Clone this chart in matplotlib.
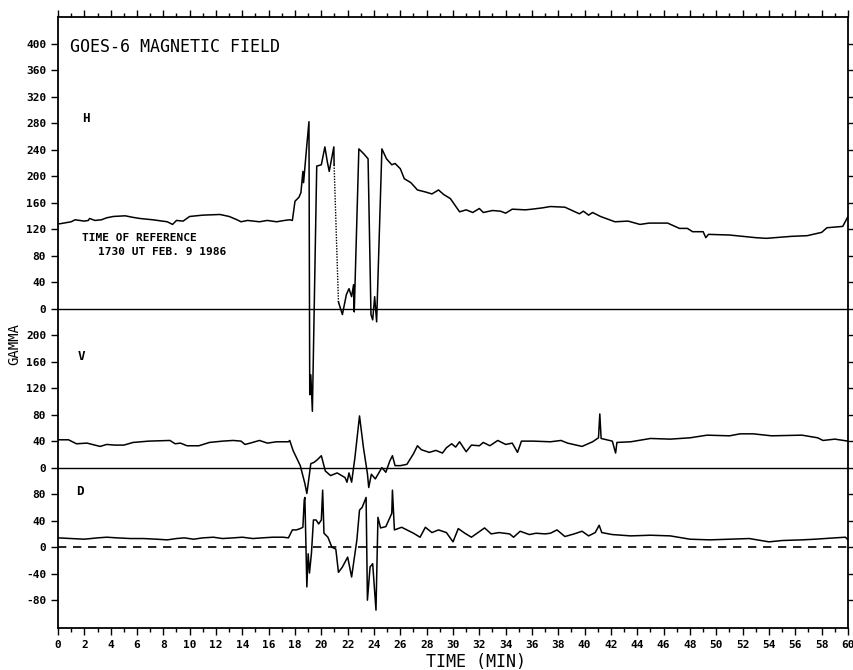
import matplotlib
matplotlib.use("Agg")
import matplotlib.pyplot as plt

# H component (gamma); the gap between the two parts is drawn dotted
h_time_a = [0, 0.15, 1.0, 1.3, 2.0, 2.3, 2.4, 2.8, 3.3, 3.7,
            4.2, 5.1, 5.6, 6.2, 7.2, 8.3, 8.7, 9.0, 9.5, 10.0,
            11.0, 12.3, 13.0, 13.6, 13.9, 14.4, 15.3, 15.9, 16.6, 17.2,
            17.6, 17.8, 18.0, 18.3, 18.45, 18.6, 18.65, 18.9, 19.06, 19.12,
            19.2, 19.32, 19.65, 20.0, 20.27, 20.45, 20.6, 20.95, 20.97]
h_gamma_a = [128, 128, 131, 134, 132, 133, 136, 133, 134, 137,
             139, 140, 138, 136, 134, 131, 127, 133, 132, 139,
             141, 142, 139, 134, 131, 133, 131, 133, 131, 133,
             134, 133, 162, 168, 175, 207, 190, 247, 282, -130,
             -100, -155, 215, 217, 244, 222, 207, 244, 217]
h_time_b = [21.3, 21.6, 21.9, 22.1, 22.3, 22.45, 22.5, 22.85, 23.2, 23.55,
            23.77, 23.9, 24.05, 24.2, 24.6, 24.95, 25.35, 25.6, 26.0, 26.3,
            26.8, 27.3, 27.9, 28.4, 28.9, 29.3, 29.8, 30.5, 31.0, 31.5,
            32.0, 32.3, 33.0, 33.6, 34.0, 34.5, 35.5, 36.0, 36.8, 37.4,
            38.5, 39.6, 39.9, 40.3, 40.6, 41.2, 42.3, 43.3, 44.2, 44.9,
            46.3, 47.2, 47.8, 48.2, 49.0, 49.2, 49.4, 51.0, 53.0, 53.8,
            55.7, 56.9, 58.0, 58.4, 59.6, 60.0]
h_gamma_b = [10, -9, 21, 30, 18, 36, -5, 241, 234, 226,
             -9, -17, 18, -20, 241, 226, 217, 219, 211, 196,
             190, 179, 176, 173, 179, 172, 166, 146, 149, 145,
             151, 145, 148, 147, 144, 150, 149, 150, 152, 154,
             153, 143, 147, 141, 145, 139, 131, 132, 127, 129,
             129, 121, 121, 116, 116, 107, 112, 111, 107, 106,
             109, 110, 115, 122, 124, 139]

# V component (gamma)
v_time = [0, 0.8, 1.4, 2.2, 3.2, 3.7, 4.3, 5.0, 5.7, 6.9,
          8.5, 8.9, 9.3, 9.8, 10.7, 11.5, 12.5, 13.3, 13.9, 14.2,
          14.6, 15.3, 15.9, 16.6, 17.5, 17.6, 17.85, 18.4, 18.75, 18.9,
          19.05, 19.2, 19.45, 19.7, 20.0, 20.3, 20.7, 21.2, 21.8, 21.95,
          22.1, 22.3, 22.55, 22.9, 23.2, 23.5, 23.6, 23.8, 24.1, 24.6,
          24.9, 25.2, 25.4, 25.6, 26.0, 26.5, 27.0, 27.3, 27.6, 28.2,
          28.7, 29.2, 29.5, 29.9, 30.2, 30.5, 31.0, 31.4, 32.0, 32.3,
          32.8, 33.4, 34.0, 34.5, 34.9, 35.2, 36.1, 37.4, 38.2, 38.7,
          39.8, 40.6, 41.05, 41.15, 41.25, 42.1, 42.35, 42.45, 43.5, 45.0,
          46.5, 48.0, 49.3, 51.0, 51.8, 52.8, 54.2, 56.5, 57.7, 58.1,
          59.0, 60.0]
v_gamma = [42, 42, 36, 37, 32, 35, 34, 34, 38, 40,
           41, 36, 37, 33, 33, 38, 40, 41, 40, 35,
           37, 41, 37, 39, 39, 41, 26, 3, -24, -39,
           -17, 6, 8, 12, 18, -5, -12, -8, -15, -22,
           -8, -22, 15, 78, 30, -9, -30, -10, -17, 0,
           -7, 10, 18, 3, 3, 5, 21, 33, 27, 23,
           26, 22, 30, 36, 31, 39, 24, 34, 33, 38,
           33, 41, 35, 37, 23, 40, 40, 39, 41, 37,
           32, 39, 45, 81, 44, 40, 22, 38, 39, 44,
           43, 45, 49, 48, 51, 51, 48, 49, 45, 41,
           43, 40]

# D component (gamma)
d_time = [0, 1.0, 2.0, 3.0, 3.7, 4.5, 5.5, 6.5, 7.5, 8.3,
          9.0, 9.6, 10.3, 11.0, 11.8, 12.5, 13.3, 14.0, 14.8, 15.5,
          16.3, 17.1, 17.5, 17.8, 18.1, 18.4, 18.6, 18.7, 18.75, 18.9,
          19.0, 19.1, 19.25, 19.4, 19.6, 19.8, 20.0, 20.1, 20.2, 20.5,
          20.8, 21.1, 21.3, 21.6, 22.0, 22.3, 22.7, 22.9, 23.1, 23.4,
          23.5, 23.7, 23.9, 24.15, 24.3, 24.5, 24.9, 25.35, 25.4, 25.55,
          26.1, 26.5, 27.0, 27.5, 27.9, 28.4, 28.9, 29.5, 30.0, 30.4,
          30.9, 31.4, 32.4, 32.9, 33.5, 34.3, 34.6, 35.1, 35.8, 36.3,
          37.0, 37.4, 37.9, 38.5, 39.2, 39.8, 40.3, 40.8, 41.1, 41.3,
          42.1, 43.5, 45.0, 46.5, 48.0, 49.5, 51.0, 52.5, 54.0, 55.0,
          56.5, 57.5, 59.0, 59.8, 60.0]
d_gamma = [14, 13, 12, 14, 15, 14, 13, 13, 12, 11,
           13, 14, 12, 14, 15, 13, 14, 15, 13, 14,
           15, 15, 14, 26, 26, 28, 30, 71, 75, -60,
           -10, -39, -9, 41, 41, 35, 41, 86, 21, 15,
           0, -3, -38, -30, -15, -45, 11, 56, 60, 75,
           -80, -30, -25, -95, 45, 29, 31, 51, 86, 26,
           30, 26, 21, 15, 30, 22, 26, 22, 8, 28,
           21, 15, 29, 20, 22, 20, 15, 24, 19, 21,
           20, 21, 26, 16, 20, 24, 17, 22, 33, 22,
           19, 17, 18, 17, 12, 11, 12, 13, 8, 10,
           11, 12, 14, 15, 11]

h_ticks = [0, 40, 80, 120, 160, 200, 240, 280, 320, 360, 400]
v_ticks = [0, 40, 80, 120, 160, 200]
d_ticks = [-80, -40, 0, 40, 80]

# vertical offsets of the three panels on the shared axis
H_OFF, V_OFF, D_OFF = 360, 120, 0

mono = "DejaVu Sans Mono"
plt.rcParams["font.family"] = mono

fig = plt.figure(figsize=(8.54, 6.70), dpi=100)
ax = fig.add_axes([58 / 854, 42 / 670, 790 / 854, 611 / 670])

lw = 1.1
ax.plot(h_time_a, [g + H_OFF for g in h_gamma_a], color="black", lw=lw)
ax.plot(h_time_b, [g + H_OFF for g in h_gamma_b], color="black", lw=lw)
ax.plot([h_time_a[-1], h_time_b[0]], [h_gamma_a[-1] + H_OFF, h_gamma_b[0] + H_OFF],
        color="black", lw=1.0, linestyle=(0, (1, 1)))
ax.plot(v_time, [g + V_OFF for g in v_gamma], color="black", lw=lw)
ax.plot(d_time, [g + D_OFF for g in d_gamma], color="black", lw=lw)

ax.axhline(H_OFF, color="black", lw=1.0)
ax.axhline(V_OFF, color="black", lw=1.0)
ax.axhline(D_OFF, color="black", lw=1.2, linestyle=(0, (5, 4)))

ax.set_xlim(0, 60)
ax.set_ylim(-122, 800)

# y ticks: three panels on one axis
pos, labs = [], []
for v in h_ticks:
    pos.append(v + H_OFF)
    labs.append(str(v))
for v in v_ticks[1:]:
    pos.append(v + V_OFF)
    labs.append(str(v))
pos.append(V_OFF)
labs.append("0")
for v in d_ticks:
    pos.append(v + D_OFF)
    labs.append(str(v))
ax.set_yticks(pos)
ax.set_yticklabels(labs)

ax.set_xticks(range(0, 61, 2))
ax.set_xticks(range(1, 60, 2), minor=True)

ax.tick_params(axis="both", which="major", direction="out", length=5, width=1.0,
               top=True, right=True, labelsize=8)
ax.tick_params(axis="x", which="minor", direction="out", length=3, width=1.0, top=True)
for lab in ax.get_xticklabels() + ax.get_yticklabels():
    lab.set_fontweight("bold")
for sp in ax.spines.values():
    sp.set_linewidth(1.3)

ax.set_xlabel("TIME (MIN)", fontsize=12)
ax.xaxis.set_label_coords((476 - 58) / 790, -0.041)
ax.set_ylabel("GAMMA", fontsize=10)
ax.yaxis.set_label_coords(-0.046, 0.465)

ax.text(0.9, 754, "GOES-6 MAGNETIC FIELD", fontsize=12, va="center", ha="left")
ax.text(1.8, 647, "H", fontsize=9, fontweight="bold", va="center")
ax.text(1.5, 287, "V", fontsize=9, fontweight="bold", va="center")
ax.text(1.4, 84, "D", fontsize=9, fontweight="bold", va="center")
ax.text(1.8, 466, "TIME OF REFERENCE", fontsize=8, fontweight="bold", va="center")
ax.text(3.0, 446, "1730 UT FEB. 9 1986", fontsize=8, fontweight="bold", va="center")

fig.savefig("out.png", dpi=100)
